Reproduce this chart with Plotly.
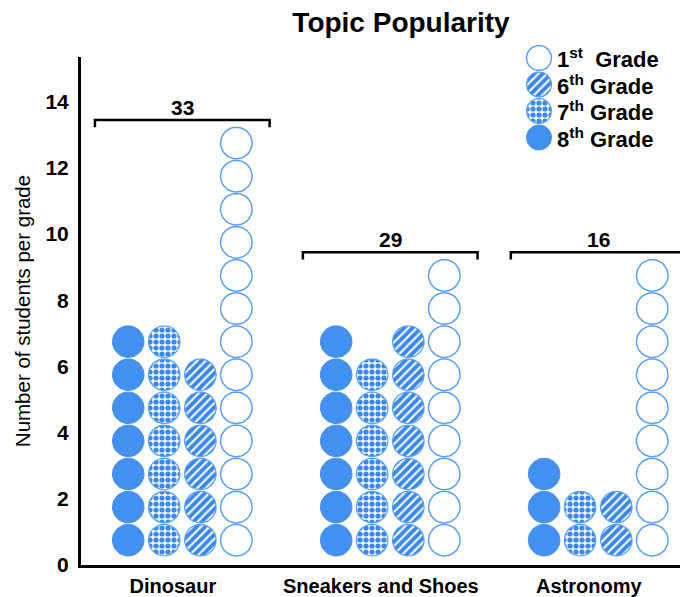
import numpy as np
import plotly.graph_objects as go

# ---------------- data ----------------
categories = ["Dinosaur", "Sneakers and Shoes", "Astronomy"]
first_grade = [13, 9, 9]
sixth_grade = [6, 7, 2]
seventh_grade = [7, 6, 2]
eighth_grade = [7, 7, 3]
y_ticks = [0, 2, 4, 6, 8, 10, 12, 14]
legend_labels = ["1<sup>st</sup>  Grade", "6<sup>th</sup> Grade", "7<sup>th</sup> Grade", "8<sup>th</sup> Grade"]

totals = [a + b + c + d for a, b, c, d in zip(first_grade, sixth_grade, seventh_grade, eighth_grade)]

# ---------------- layout constants (page pixels; body has an 8px margin) ----------------
PAGE_W, PAGE_H = 688, 597
OFF = 8
W, H = PAGE_W - OFF, PAGE_H - OFF
PLOT_LEFT, PLOT_TOP, PLOT_BOTTOM = 81, 40, 565      # page px
M_L, M_R, M_T, M_B = PLOT_LEFT - OFF, 0, PLOT_TOP - OFF, PAGE_H - PLOT_BOTTOM
PLOT_W = W - M_L - M_R
PLOT_H = H - M_T - M_B
MAIN_TOP_PX = 57
main_h_px = PLOT_BOTTOM - MAIN_TOP_PX
Y_DOMAIN_TOP = main_h_px / PLOT_H
X_RANGE = [-0.487, 2.432]
Y_RANGE = [0, 15.35]
px_per_x = PLOT_W / (X_RANGE[1] - X_RANGE[0])
px_per_y = main_h_px / (Y_RANGE[1] - Y_RANGE[0])

R_PX = 15.8
Y0 = 0.75
BLUE = "#4290f0"
PAT_BLUE = "#3a88ee"
LINE_BLUE = "#5a9ff3"
FONT = "Liberation Sans, Arial, sans-serif"
LABEL_SHIFT = -0.045

t = np.linspace(0, 2 * np.pi, 41)


def circles(cx_list, cy_list, rx, ry):
    xs, ys = [], []
    for cx, cy in zip(cx_list, cy_list):
        xs += list(cx + rx * np.cos(t)) + [None]
        ys += list(cy + ry * np.sin(t)) + [None]
    return xs, ys


styles = {
    "8th": dict(fillcolor=BLUE, line=dict(color=BLUE, width=1)),
    "7th": dict(fillcolor="white", line=dict(color=LINE_BLUE, width=1.2),
                fillpattern=dict(shape=".", fgcolor=PAT_BLUE, bgcolor="white", fgopacity=1,
                                 size=6, solidity=0.6)),
    "6th": dict(fillcolor="white", line=dict(color=LINE_BLUE, width=1.2),
                fillpattern=dict(shape="/", fgcolor=PAT_BLUE, bgcolor="white", fgopacity=1,
                                 size=6, solidity=0.66)),
    "1st": dict(fillcolor="white", line=dict(color=LINE_BLUE, width=1.5)),
}

columns = [("8th", eighth_grade, -0.26), ("7th", seventh_grade, -0.087),
           ("6th", sixth_grade, 0.087), ("1st", first_grade, 0.26)]

fig = go.Figure()

rx = R_PX / px_per_x
ry = R_PX / px_per_y
for grade, counts, off in columns:
    cxs, cys = [], []
    for ci, n in enumerate(counts):
        for k in range(n):
            cxs.append(ci + off)
            cys.append(k + Y0)
    xs, ys = circles(cxs, cys, rx, ry)
    fig.add_trace(go.Scatter(x=xs, y=ys, mode="lines", fill="toself", showlegend=False,
                             hoverinfo="skip", **styles[grade]))

# brackets + totals
for ci, tot in enumerate(totals):
    top = max(first_grade[ci], sixth_grade[ci], seventh_grade[ci], eighth_grade[ci]) + 0.45
    x0, x1 = ci - 0.42, ci + 0.42
    leg = 0.22
    fig.add_shape(type="path", path=f"M {x0},{top - leg} L {x0},{top} L {x1},{top} L {x1},{top - leg}",
                  line=dict(color="black", width=2.5), xref="x", yref="y")
    fig.add_annotation(x=ci, y=top, text=f"<b>{tot}</b>", showarrow=False, yanchor="bottom", yshift=-1,
                       font=dict(size=21, color="black", family=FONT), xref="x", yref="y")

# custom legend on overlay axes (1 unit = 1 page px)
LEG_X0, LEG_Y_TOP, LEG_Y_BOT = 500, 40, 155
leg_cx = 539
leg_r = 12.5
leg_y_first = 58
leg_dy = 26.5
legend_order = ["1st", "6th", "7th", "8th"]
for i, g in enumerate(legend_order):
    cy = leg_y_first + i * leg_dy
    xs, ys = circles([leg_cx], [cy], leg_r, leg_r)
    fig.add_trace(go.Scatter(x=xs, y=ys, mode="lines", fill="toself", showlegend=False,
                             hoverinfo="skip", xaxis="x2", yaxis="y2", **styles[g]))
    fig.add_annotation(x=leg_cx + 16, y=cy, text=f"<b>{legend_labels[i]}</b>", showarrow=False,
                       xanchor="left", yanchor="middle", xref="x2", yref="y2",
                       font=dict(size=22, color="black", family=FONT))

fig.update_layout(
    width=W, height=H,
    margin=dict(l=M_L, r=M_R, t=M_T, b=M_B, pad=0),
    paper_bgcolor="white", plot_bgcolor="white",
    font=dict(family=FONT, color="black"),
    title=dict(text="<b>Topic Popularity</b>", x=(401 - OFF) / W, y=1 - (22 - OFF) / H,
               xref="container", yref="container", xanchor="center", yanchor="middle",
               font=dict(size=28, color="black", family=FONT)),
    xaxis=dict(range=X_RANGE, domain=[0, 1], showgrid=False, zeroline=False, showline=True,
               linecolor="black", linewidth=2.5,
               tickvals=[i + LABEL_SHIFT for i in range(len(categories))],
               ticktext=[f"<b>{c}</b>" for c in categories], ticks="", ticklabelstandoff=1,
               tickfont=dict(size=20, color="black", family=FONT), automargin=False, fixedrange=True),
    yaxis=dict(range=Y_RANGE, domain=[0, Y_DOMAIN_TOP], showgrid=False, zeroline=False, showline=True,
               linecolor="black", linewidth=3, tickvals=y_ticks,
               ticktext=[f"<b>{v}</b>" for v in y_ticks], ticks="", ticklabelstandoff=5,
               tickfont=dict(size=21, color="black", family=FONT), automargin=False,
               title=dict(text="Number of students per grade", standoff=10,
                          font=dict(size=20.5, color="black", family=FONT)), fixedrange=True),
    xaxis2=dict(domain=[(LEG_X0 - PLOT_LEFT) / PLOT_W, 1], range=[LEG_X0, PAGE_W], visible=False,
                anchor="y2", fixedrange=True),
    yaxis2=dict(domain=[(PLOT_BOTTOM - LEG_Y_BOT) / PLOT_H, 1], range=[LEG_Y_BOT, LEG_Y_TOP],
                visible=False, anchor="x2", fixedrange=True),
    showlegend=False,
)

fig.write_html("out.html")
